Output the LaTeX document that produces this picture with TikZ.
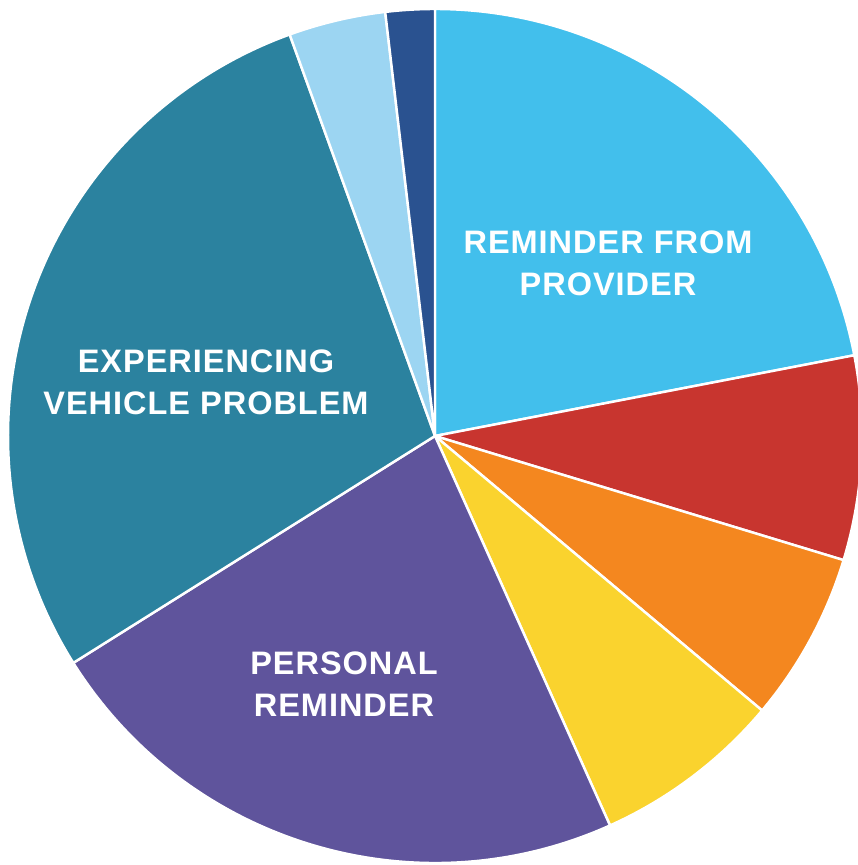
\documentclass[tikz,border=0pt]{standalone}
\usepackage{fontspec}
\newfontfamily\lblfont[LetterSpace=3]{Liberation Sans}
\usepackage{tikz}
\usetikzlibrary{positioning}

\definecolor{provblue}{HTML}{42BFEC}
\definecolor{slicered}{HTML}{C8352F}
\definecolor{sliceorange}{HTML}{F4871F}
\definecolor{sliceyellow}{HTML}{FAD32E}
\definecolor{slicepurple}{HTML}{5F549C}
\definecolor{sliceteal}{HTML}{2B829F}
\definecolor{skyblue}{HTML}{9CD5F2}
\definecolor{navyblue}{HTML}{2A5290}

\begin{document}
\begin{tikzpicture}[x=0.02cm,y=0.02cm,
				slice/.style={draw=white,line width=1.4pt,line join=round},
				lbl/.style={text=white,align=center,font=\lblfont\bfseries\fontsize{18.5}{24}\selectfont}
			]
			\useasboundingbox (0,0) rectangle (858,865);
			\coordinate (c) at (435,429);
			% slices, clockwise from the top
			\filldraw[slice,fill=provblue]     (c) -- ++(10.9:427)  arc[start angle=10.9,end angle=90,radius=427] -- cycle;
			\filldraw[slice,fill=slicered]     (c) -- ++(-16.9:427) arc[start angle=-16.9,end angle=10.9,radius=427] -- cycle;
			\filldraw[slice,fill=sliceorange]  (c) -- ++(-40:427)   arc[start angle=-40,end angle=-16.9,radius=427] -- cycle;
			\filldraw[slice,fill=sliceyellow]  (c) -- ++(-65.8:427) arc[start angle=-65.8,end angle=-40,radius=427] -- cycle;
			\filldraw[slice,fill=slicepurple]  (c) -- ++(212.1:427) arc[start angle=212.1,end angle=294.2,radius=427] -- cycle;
			\filldraw[slice,fill=sliceteal]    (c) -- ++(109.9:427) arc[start angle=109.9,end angle=212.1,radius=427] -- cycle;
			\filldraw[slice,fill=skyblue]      (c) -- ++(96.7:427)  arc[start angle=96.7,end angle=109.9,radius=427] -- cycle;
			\filldraw[slice,fill=navyblue]     (c) -- ++(90:427)    arc[start angle=90,end angle=96.7,radius=427] -- cycle;
			% labels
			\node[lbl] (provider) at (608,602) {REMINDER FROM\\PROVIDER};
			\node[lbl] (vehicle) at (206,483) {EXPERIENCING\\VEHICLE PROBLEM};
			\node[lbl] (personal) at (344,181) {PERSONAL\\REMINDER};
		\end{tikzpicture}
\end{document}
